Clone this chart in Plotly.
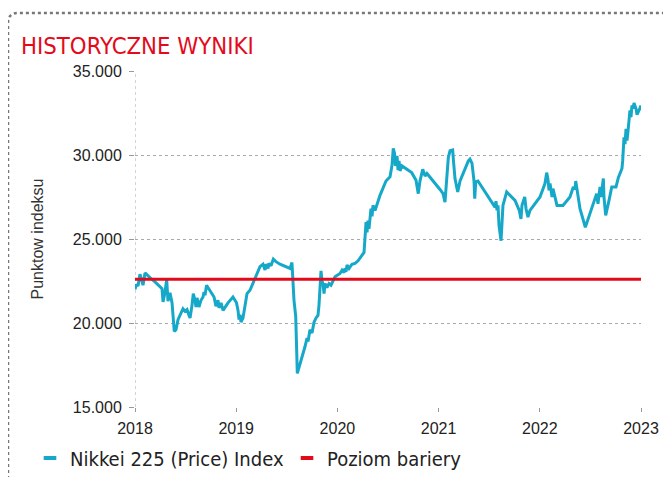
import plotly.graph_objects as go

# --- data ---
years = [
    2018.000, 2018.015, 2018.030, 2018.049, 2018.064, 2018.079, 2018.099, 2018.119, 2018.148, 2018.198,
    2018.247, 2018.267, 2018.277, 2018.296, 2018.313, 2018.326, 2018.346, 2018.366, 2018.388, 2018.405,
    2018.425, 2018.455, 2018.474, 2018.494, 2018.514, 2018.534, 2018.544, 2018.563, 2018.576, 2018.593,
    2018.603, 2018.613, 2018.632, 2018.652, 2018.672, 2018.682, 2018.692, 2018.707, 2018.741, 2018.781,
    2018.800, 2018.820, 2018.830, 2018.850, 2018.870, 2018.889, 2018.919, 2018.968, 2019.003, 2019.018,
    2019.028, 2019.038, 2019.047, 2019.067, 2019.077, 2019.107, 2019.136, 2019.186, 2019.235, 2019.265,
    2019.285, 2019.295, 2019.314, 2019.324, 2019.344, 2019.367, 2019.393, 2019.433, 2019.482, 2019.532,
    2019.551, 2019.561, 2019.571, 2019.588, 2019.604, 2019.680, 2019.700, 2019.710, 2019.729, 2019.749,
    2019.769, 2019.789, 2019.808, 2019.818, 2019.828, 2019.838, 2019.848, 2019.858, 2019.868, 2019.878,
    2019.897, 2019.917, 2019.937, 2019.976, 2020.026, 2020.046, 2020.065, 2020.075, 2020.085, 2020.095,
    2020.115, 2020.144, 2020.174, 2020.204, 2020.263, 2020.283, 2020.293, 2020.302, 2020.312, 2020.332,
    2020.342, 2020.352, 2020.372, 2020.421, 2020.480, 2020.520, 2020.540, 2020.552, 2020.564, 2020.574,
    2020.589, 2020.599, 2020.609, 2020.619, 2020.638, 2020.734, 2020.777, 2020.799, 2020.816, 2020.843,
    2020.866, 2020.885, 2021.014, 2021.044, 2021.063, 2021.073, 2021.096, 2021.113, 2021.139, 2021.147,
    2021.162, 2021.189, 2021.212, 2021.294, 2021.310, 2021.330, 2021.340, 2021.350, 2021.357, 2021.367,
    2021.389, 2021.557, 2021.567, 2021.577, 2021.587, 2021.597, 2021.617, 2021.627, 2021.636, 2021.673,
    2021.755, 2021.797, 2021.804, 2021.814, 2021.824, 2021.851, 2021.864, 2021.883, 2021.903, 2022.002,
    2022.051, 2022.068, 2022.081, 2022.091, 2022.101, 2022.121, 2022.130, 2022.150, 2022.170, 2022.229,
    2022.298, 2022.331, 2022.348, 2022.355, 2022.368, 2022.378, 2022.397, 2022.450, 2022.496, 2022.562,
    2022.575, 2022.595, 2022.605, 2022.628, 2022.634, 2022.651, 2022.684, 2022.711, 2022.753, 2022.776,
    2022.812, 2022.819, 2022.832, 2022.842, 2022.852, 2022.862, 2022.872, 2022.881, 2022.891, 2022.901,
    2022.911, 2022.921, 2022.931, 2022.951, 2022.961, 2022.980, 2023.000,
]
nikkei = [
    22000, 22300, 22200, 22900, 22600, 22250, 22980, 22850, 22700, 22450,
    22150, 22050, 21250, 21800, 22600, 21300, 21800, 21200, 19500, 19600,
    20200, 20600, 20850, 20700, 20800, 20450, 20300, 21050, 21750, 21350,
    20950, 21500, 20950, 21350, 21550, 21850, 21650, 22250, 21950, 21550,
    21000, 21350, 20900, 21200, 20750, 20950, 21200, 21550, 21200, 20750,
    20200, 20500, 20050, 20300, 20650, 21750, 21950, 22650, 23350, 23500,
    23150, 23500, 23250, 23550, 23400, 23800, 23650, 23500, 23380, 23250,
    23600, 21950, 21350, 20400, 17000, 18600, 19100, 18900, 19600, 19400,
    20050, 20300, 20450, 21050, 21950, 23100, 22500, 22350, 21750, 22350,
    22100, 22350, 22250, 22750, 22950, 23150, 23000, 23250, 23050, 23450,
    23250, 23500, 23550, 23700, 24200, 26000, 25400, 26100, 25600, 26800,
    26350, 27000, 26700, 27600, 28450, 28700, 29400, 30400, 30100, 29350,
    29950, 29100, 29650, 29050, 29350, 28950, 28500, 27700, 28450, 29150,
    28750, 28900, 27950, 27700, 27200, 27900, 29850, 30250, 30300, 29650,
    28600, 27800, 28450, 29650, 29750, 29500, 29050, 28450, 27400, 28400,
    28450, 26900, 27250, 26700, 27000, 25800, 24900, 26100, 27000, 27800,
    27300, 26700, 26400, 26200, 27000, 27500, 26800, 26300, 26700, 27500,
    28300, 28950, 28550, 27900, 28300, 27500, 28000, 27500, 27000, 27000,
    27500, 28100, 27950, 28450, 27900, 27500, 26800, 25700, 26550, 27700,
    27100, 28100, 27500, 28600, 27500, 26400, 27300, 28100, 28100, 28650,
    29200, 29650, 31050, 30650, 31550, 30850, 31450, 31950, 32650, 32250,
    32950, 32750, 33100, 32750, 32400, 32650, 32950,
]
barrier_level = 22600
barrier_years = [2018, 2023]
year_ticks = [2018, 2019, 2020, 2021, 2022, 2023]
value_ticks = [15000, 20000, 25000, 30000, 35000]

series_names = ["Nikkei 225 (Price) Index", "Poziom bariery"]
title_text = "HISTORYCZNE WYNIKI"
y_title = "Punktow indeksu"

BLUE = "#16a8c8"
RED = "#e30a1c"
NARROW = "Liberation Sans Narrow, DejaVu Sans Condensed, Liberation Sans, sans-serif"
SANS = "Liberation Sans, Arial, sans-serif"

fig = go.Figure()
fig.add_trace(go.Scatter(x=years, y=nikkei, mode="lines",
                         line=dict(color=BLUE, width=3), showlegend=False,
                         name=series_names[0]))
fig.add_trace(go.Scatter(x=barrier_years, y=[barrier_level] * len(barrier_years),
                         mode="lines", line=dict(color=RED, width=3),
                         showlegend=False, name=series_names[1]))
# legend-only entries with short thick bars
for nm, col in zip(series_names, [BLUE, RED]):
    fig.add_trace(go.Scatter(x=[None], y=[None], mode="markers", name=nm,
                             marker=dict(symbol="line-ew", size=9,
                                         line=dict(color=col, width=4))))

tick_font = dict(family=SANS, size=16, color="#222")

# the page body adds an 8px offset, so the figure is 8px smaller on each axis
fig.update_layout(
    width=663, height=469,
    margin=dict(l=127, r=30, t=63, b=70, autoexpand=False),
    paper_bgcolor="white", plot_bgcolor="white",
    separators=",.",
    showlegend=True,
    legend=dict(orientation="h", x=-0.2075, xanchor="left", y=-0.152, yanchor="middle",
                font=dict(family=NARROW, size=20, color="#222"),
                itemwidth=30, entrywidthmode="pixels", entrywidth=212,
                tracegroupgap=0, bgcolor="rgba(0,0,0,0)"),
    xaxis=dict(range=[2018, 2023], tickvals=year_ticks, ticktext=[str(v) for v in year_ticks],
               showgrid=False, zeroline=False, showline=False, automargin=False,
               ticks="outside", ticklen=4, tickcolor="#999", tickfont=tick_font,
               ticklabelstandoff=3),
    yaxis=dict(range=[15000, 35000], tickvals=value_ticks, tickformat=",.0f",
               showgrid=True, gridcolor="#aaaaaa", griddash="dot", gridwidth=1,
               zeroline=False, showline=False, automargin=False,
               ticks="outside", ticklen=5, tickcolor="#999", tickfont=tick_font,
               ticklabelstandoff=4,
               title=dict(text=y_title, standoff=25,
                          font=dict(family=SANS, size=16, color="#333"))),
    annotations=[dict(text=title_text, xref="paper", yref="paper", x=-0.2289, y=1.074,
                      xanchor="left", yanchor="middle", showarrow=False,
                      font=dict(family=NARROW, size=23.7, color=RED))],
    shapes=[
        # left axis dotted line
        dict(type="line", xref="x", yref="paper", x0=2018, x1=2018, y0=0, y1=1,
             line=dict(color="#aaaaaa", width=1, dash="dot"), layer="below"),
        # dotted rounded frame
        dict(type="path", xref="paper", yref="paper",
             path="M -0.251,-0.25 L -0.251,1.143 Q -0.251,1.1726 -0.231,1.1726 L 1.1,1.1726",
             line=dict(color="#777777", width=2.5, dash="dot")),
    ],
)

fig.write_html("out.html")
